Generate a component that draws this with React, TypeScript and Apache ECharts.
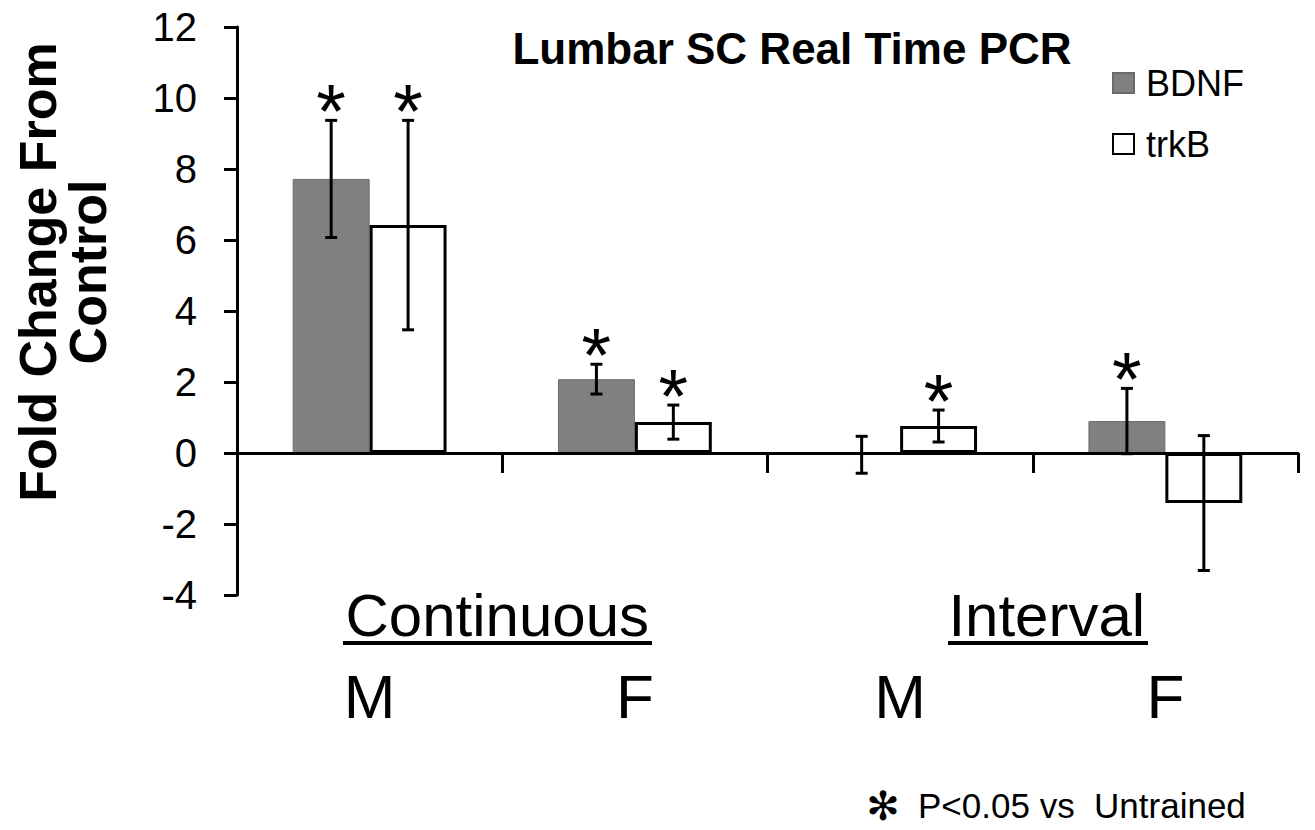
import React, { useEffect, useRef } from "react";
import * as echarts from "echarts";

// ---- data ----
const categories = ["M", "F", "M", "F"];
const groups = ["Continuous", "Interval"];
const seriesNames = ["BDNF", "trkB"];
const bdnfValues = [7.72, 2.08, -0.05, 0.9];
const bdnfErrors = [1.65, 0.42, 0.52, 0.92];
const bdnfSig = [1, 1, 0, 1];
const trkbValues = [6.42, 0.87, 0.76, -1.41];
const trkbErrors = [2.95, 0.48, 0.45, 1.9];
const trkbSig = [1, 1, 1, 0];
const Y_MIN = -4;
const Y_MAX = 12;
const Y_STEP = 2;
const titleText = "Lumbar SC Real Time PCR";
const yAxisTitle = "Fold Change From\nControl";
const footnote = "P<0.05 vs  Untrained";

const FONT = "Arial, 'Liberation Sans', sans-serif";
const BAR_FRAC = 0.29;

function makeErrorRender(side: number) {
  return (params: any, api: any) => {
    const ci = api.value(0);
    const v = api.value(1);
    const e = api.value(2);
    const sig = api.value(3);
    const band = api.size([1, 0])[0];
    const off = (side * band * BAR_FRAC) / 2;
    const c = api.coord([ci, v]);
    const x = c[0] + off;
    const yt = api.coord([ci, v + e])[1];
    const yb = api.coord([ci, v - e])[1];
    const ls = { stroke: "#000", lineWidth: 3 };
    const children: any[] = [
      { type: "line", shape: { x1: x, y1: yt, x2: x, y2: yb }, style: ls },
      { type: "line", shape: { x1: x - 6, y1: yt, x2: x + 6, y2: yt }, style: ls },
      { type: "line", shape: { x1: x - 6, y1: yb, x2: x + 6, y2: yb }, style: ls },
    ];
    if (sig) {
      children.push({
        type: "text",
        style: {
          text: "*",
          x,
          y: yt - 10,
          textAlign: "center",
          textVerticalAlign: "middle",
          font: `76px ${FONT}`,
          fill: "#000",
        },
      });
    }
    return { type: "group", children };
  };
}

export default function App() {
  const ref = useRef<HTMLDivElement>(null);
  useEffect(() => {
    document.body.style.margin = "0";
    if (!ref.current) return;
    const chart = echarts.init(ref.current, null, { renderer: "svg" });
    const bdnfErrData = categories.map((_, i) => [i, bdnfValues[i], bdnfErrors[i], bdnfSig[i]]);
    const trkbErrData = categories.map((_, i) => [i, trkbValues[i], trkbErrors[i], trkbSig[i]]);
    chart.setOption({
      animation: false,
      backgroundColor: "#fff",
      grid: {
        left: 237,
        right: 17,
        top: 27,
        bottom: 235,
        containLabel: false,
        outerBoundsMode: "none",
      },
      legend: {
        data: seriesNames,
        orient: "vertical",
        left: 1112,
        top: 65,
        icon: "rect",
        itemWidth: 21,
        itemHeight: 20,
        itemGap: 25,
        padding: 0,
        textStyle: { fontSize: 36, fontFamily: FONT, color: "#000", padding: [0, 0, 0, 7] },
      },
      xAxis: [
        {
          type: "category",
          data: categories,
          z: 3,
          axisLine: { onZero: true, lineStyle: { color: "#000", width: 3 } },
          axisTick: { show: true, length: 20, lineStyle: { color: "#000", width: 3 } },
          axisLabel: {
            show: true,
            margin: 70,
            fontSize: 62,
            lineHeight: 62,
            fontFamily: FONT,
            color: "#000",
          },
          splitLine: { show: false },
        },
        {
          type: "category",
          data: groups,
          position: "bottom",
          axisLine: { show: false, onZero: false },
          axisTick: { show: false },
          axisLabel: {
            margin: -10,
            formatter: (v: string) => (v === groups[1] ? `{r|${v}}` : `{l|${v}}`),
            rich: {
              l: { fontSize: 60, lineHeight: 60, fontFamily: FONT, color: "#000", padding: [0, 10, 0, 0] },
              r: { fontSize: 60, lineHeight: 60, fontFamily: FONT, color: "#000", padding: [0, 0, 0, 28] },
            },
          },
          splitLine: { show: false },
        },
      ],
      yAxis: {
        type: "value",
        min: Y_MIN,
        max: Y_MAX,
        interval: Y_STEP,
        axisLine: { show: true, lineStyle: { color: "#000", width: 3 } },
        axisTick: { show: true, length: 13, lineStyle: { color: "#000", width: 3 } },
        axisLabel: { margin: 40, fontSize: 40, fontFamily: FONT, color: "#000" },
        splitLine: { show: false },
      },
      series: [
        {
          name: seriesNames[0],
          type: "bar",
          data: bdnfValues,
          barWidth: `${BAR_FRAC * 100}%`,
          barGap: "0%",
          itemStyle: { color: "#808080", borderColor: "#6a6a6a", borderWidth: 1 },
          z: 2,
        },
        {
          name: seriesNames[1],
          type: "bar",
          data: trkbValues,
          barWidth: `${BAR_FRAC * 100}%`,
          barGap: "0%",
          itemStyle: { color: "#ffffff", borderColor: "#000", borderWidth: 3 },
          z: 2,
        },
        {
          type: "custom",
          data: bdnfErrData,
          encode: { x: 0, y: 1 },
          renderItem: makeErrorRender(-1),
          clip: false,
          z: 5,
          silent: true,
        },
        {
          type: "custom",
          data: trkbErrData,
          encode: { x: 0, y: 1 },
          renderItem: makeErrorRender(1),
          clip: false,
          z: 5,
          silent: true,
        },
      ],
      graphic: [
        {
          type: "text",
          x: 792,
          y: 26,
          style: {
            text: titleText,
            font: `bold 44px ${FONT}`,
            textAlign: "center",
            textVerticalAlign: "top",
            fill: "#000",
          },
        },
        {
          type: "text",
          x: 63,
          y: 272,
          rotation: Math.PI / 2,
          style: {
            text: yAxisTitle,
            font: `bold 52px ${FONT}`,
            lineHeight: 50,
            textAlign: "center",
            textVerticalAlign: "middle",
            fill: "#000",
          },
        },
        { type: "line", shape: { x1: 343, y1: 643, x2: 652, y2: 643 }, style: { stroke: "#000", lineWidth: 4 } },
        { type: "line", shape: { x1: 948, y1: 643, x2: 1148, y2: 643 }, style: { stroke: "#000", lineWidth: 4 } },
        {
          type: "text",
          x: 883,
          y: 806,
          style: {
            text: "\u273B",
            font: `bold 40px 'DejaVu Sans', sans-serif`,
            textAlign: "center",
            textVerticalAlign: "middle",
            fill: "#000",
          },
        },
        {
          type: "text",
          x: 918,
          y: 805,
          style: {
            text: footnote,
            font: `35px ${FONT}`,
            textAlign: "left",
            textVerticalAlign: "middle",
            fill: "#000",
          },
        },
      ],
    });
    return () => chart.dispose();
  }, []);
  return <div ref={ref} style={{ width: 1315, height: 830 }} />;
}
